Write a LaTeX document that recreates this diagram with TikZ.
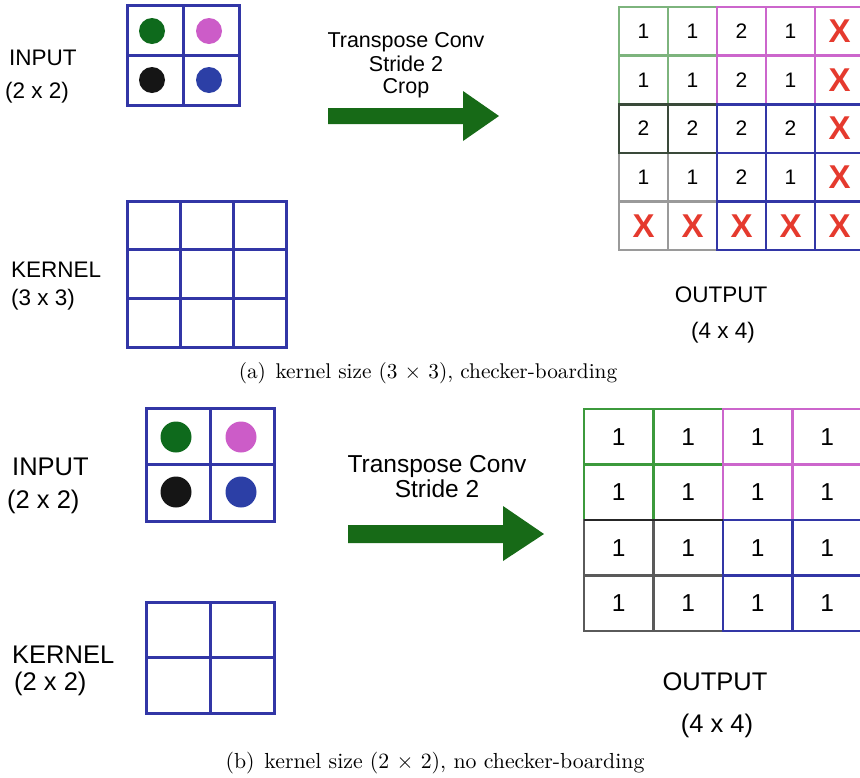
\documentclass[tikz,border=0pt]{standalone}
\usepackage{fontspec}
\newfontfamily\hv{Liberation Sans}
\newfontfamily\capfont{lmroman10-regular}[Extension=.otf]
\definecolor{gridblue}{HTML}{3236A6}
\definecolor{dotgreen}{HTML}{0E6A1C}
\definecolor{dotpink}{HTML}{CC5CC8}
\definecolor{dotblack}{HTML}{151515}
\definecolor{dotblue}{HTML}{2C3FA6}
\definecolor{arrowgreen}{HTML}{176A17}
\definecolor{lgreen}{HTML}{7DB47D}
\definecolor{mgreen}{HTML}{3C9A3C}
\definecolor{kpink}{HTML}{CC66CC}
\definecolor{kgrey}{HTML}{9A9A9A}
\definecolor{kdgrey}{HTML}{5A5A5A}
\definecolor{kdark}{HTML}{3A4A3A}
\definecolor{xred}{HTML}{E53A2E}

% grid of cells: x0, y0, cell width, cell height, columns, rows, style
\newcommand\cellgrid[7]{%
  \foreach \ci in {1,...,#5}{%
    \foreach \cj in {1,...,#6}{%
      \draw[#7] ({#1+(\ci-1)*#3},{#2+(\cj-1)*#4}) rectangle ++(#3,#4);%
    }%
  }%
}
\def\crossentry{X}

\begin{document}
\begin{tikzpicture}[x=1pt,y=-1pt,
  lab/.style={font=\hv\fontsize{#1}{#1}\selectfont, inner sep=0pt, anchor=base},
  labw/.style={lab=#1, anchor=base west},
  captext/.style={font=\capfont\fontsize{#1}{24}\selectfont, inner sep=0pt, anchor=base},
  num/.style={font=\hv\fontsize{#1}{#1}\selectfont, inner sep=0pt},
  xmark/.style={font=\hv\bfseries\fontsize{33}{33}\selectfont, text=xred, inner sep=0pt},
  blueline/.style={draw=gridblue, line width=3pt},
  outline/.style={draw=#1, line width=2.6pt}]
\useasboundingbox (0,0) rectangle (860,777);
\clip (0,0) rectangle (860,777);

% ---------------- (a) kernel 3x3 ----------------
\node[labw=22.5] (inA) at (9,65) {INPUT};
\node[labw=22.5] (inAdim) at (5,98) {(2 x 2)};
\node[labw=22.5] (kA) at (11,277) {KERNEL};
\node[labw=22.5] (kAdim) at (11,305) {(3 x 3)};

% input 2x2 with coloured entries
\fill[dotgreen] (152,31) circle (13);
\fill[dotpink]  (209,31) circle (13);
\fill[dotblack] (152,80) circle (13);
\fill[dotblue]  (209,80) circle (13);
\cellgrid{127}{5}{56}{50}{2}{2}{blueline}

% kernel 3x3
\cellgrid{127}{201}{53}{48.67}{3}{3}{blueline}

% arrow and its caption
\node[lab=21.5] (tA1) at (406,47) {Transpose Conv};
\node[lab=21.5] (tA2) at (406,71) {Stride 2};
\node[lab=21.5] (tA3) at (406,93) {Crop};
\fill[arrowgreen] (328,108) -- (463,108) -- (463,91) -- (499,116) -- (463,141)
  -- (463,124) -- (328,124) -- cycle;

% output: overlapping 3x3 footprints
\cellgrid{619}{7}{49}{48.6}{3}{3}{outline=lgreen}
\cellgrid{619}{104.2}{49}{48.6}{3}{3}{outline=kgrey}
\cellgrid{619}{104.2}{49}{48.6}{2}{1}{outline=kdark}
\cellgrid{717}{7}{49}{48.6}{3}{3}{outline=kpink}
\cellgrid{717}{104.2}{49}{48.6}{3}{3}{outline=gridblue}

\foreach \row [count=\j] in {{1,1,2,1,X},{1,1,2,1,X},{2,2,2,2,X},{1,1,2,1,X},{X,X,X,X,X}}{
  \foreach \v [count=\i] in \row {
    \ifx\v\crossentry
      \node[xmark] (oA-\j-\i) at ({619+(\i-0.5)*49},{7+(\j-0.5)*48.6}) {X};
    \else
      \node[num=21] (oA-\j-\i) at ({619+(\i-0.5)*49},{7+(\j-0.5)*48.6}) {\v};
    \fi
  }
}

\node[lab=22.5] (outA) at (721,302) {OUTPUT};
\node[lab=22.5] (outAdim) at (723,338) {(4 x 4)};

\node[captext=21.3] (capA) at (428,378) {(a)\hspace{0.45em}kernel size (3 × 3), checker-boarding};

% ---------------- (b) kernel 2x2 ----------------
\node[labw=25.5] (inB) at (12,475) {INPUT};
\node[labw=25.5] (inBdim) at (7,508) {(2 x 2)};
\node[labw=25.5] (kB) at (12,663) {KERNEL};
\node[labw=25.5] (kBdim) at (14,690) {(2 x 2)};

\fill[dotgreen] (176,437) circle (15.5);
\fill[dotpink]  (241,437) circle (15.5);
\fill[dotblack] (176,492) circle (15.5);
\fill[dotblue]  (241,492) circle (15.5);
\cellgrid{146}{408}{64}{56.5}{2}{2}{blueline}

\cellgrid{146}{602}{64}{55.5}{2}{2}{blueline}

\node[lab=24.5] (tB1) at (437,472) {Transpose Conv};
\node[lab=24.5] (tB2) at (437,497) {Stride 2};
\fill[arrowgreen] (348,525) -- (503,525) -- (503,506) -- (544,534) -- (503,561)
  -- (503,543) -- (348,543) -- cycle;

% output: non-overlapping 2x2 footprints
\cellgrid{584}{409}{69.5}{55.5}{2}{2}{outline=mgreen}
\cellgrid{723}{409}{69.5}{55.5}{2}{2}{outline=kpink}
\cellgrid{584}{520}{69.5}{55.5}{2}{2}{outline=kdgrey}
\cellgrid{723}{520}{69.5}{55.5}{2}{2}{outline=gridblue}
\draw[line width=2.6pt, draw=black!85] (584,520) -- (723,520);

\foreach \j in {1,...,4}{
  \foreach \i in {1,...,4}{
    \node[num=24.5] (oB-\j-\i) at ({584+(\i-0.5)*69.5},{409+(\j-0.5)*55.5}) {1};
  }
}

\node[lab=25.5] (outB) at (715,690) {OUTPUT};
\node[lab=25.5] (outBdim) at (717,732) {(4 x 4)};

\node[captext=21.8] (capB) at (435,768) {(b)\hspace{0.45em}kernel size (2 × 2), no checker-boarding};
\end{tikzpicture}
\end{document}
